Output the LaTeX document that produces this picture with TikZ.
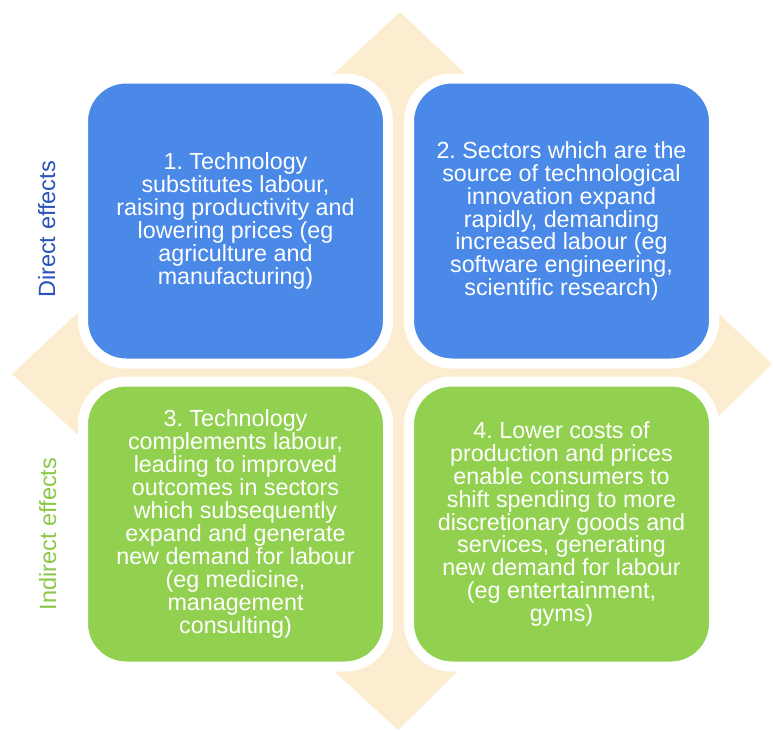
\documentclass[tikz,border=0pt]{standalone}
\usepackage{fontspec}
\setmainfont{Liberation Sans}
\newfontfamily\boxfont{Liberation Sans}
\frenchspacing
\definecolor{peach}{RGB}{253,237,208}
\definecolor{cardblue}{RGB}{74,137,232}
\definecolor{cardgreen}{RGB}{146,208,80}
\definecolor{labelblue}{RGB}{42,84,184}
\definecolor{labelgreen}{RGB}{140,200,72}
\begin{document}
\begin{tikzpicture}[x=1pt,y=-1pt,
  card/.style={rectangle, rounded corners=43pt, draw=white, line width=10pt,
    minimum width=305pt, minimum height=285pt, align=center, text=white,
    font=\boxfont\frenchspacing\fontsize{23.3}{22.9}\selectfont, inner sep=0pt},
  bluecard/.style={card, fill=cardblue},
  greencard/.style={card, fill=cardgreen},
  sidelabel/.style={rotate=90, anchor=base, font=\fontsize{23.5}{28}\selectfont, inner sep=0pt}]
\useasboundingbox (0,0) rectangle (773,731);
\fill[white] (0,0) rectangle (773,731);
\fill[peach] (400,12) -- (772,364) -- (398,730) -- (12,374) -- cycle;
\node[bluecard] (b1) at (235.5,221) {1. Technology\\substitutes labour,\\raising productivity and\\lowering prices (eg\\agriculture and\\manufacturing)};
\node[bluecard] (b2) at (561.5,221) {2. Sectors which are the\\source of technological\\innovation expand\\rapidly, demanding\\increased labour (eg\\software engineering,\\scientific research)};
\node[greencard] (b3) at (235.5,524) {3. Technology\\complements labour,\\leading to improved\\outcomes in sectors\\which subsequently\\expand and generate\\new demand for labour\\(eg medicine,\\management\\consulting)};
\node[greencard] (b4) at (561.5,524) {4. Lower costs of\\production and prices\\enable consumers to\\shift spending to more\\discretionary goods and\\services, generating\\new demand for labour\\(eg entertainment,\\gyms)};
\node[sidelabel, text=labelblue] (l1) at (55,229.5) {Direct effects};
\node[sidelabel, text=labelgreen] (l2) at (56,534) {Indirect effects};
\end{tikzpicture}
\end{document}
